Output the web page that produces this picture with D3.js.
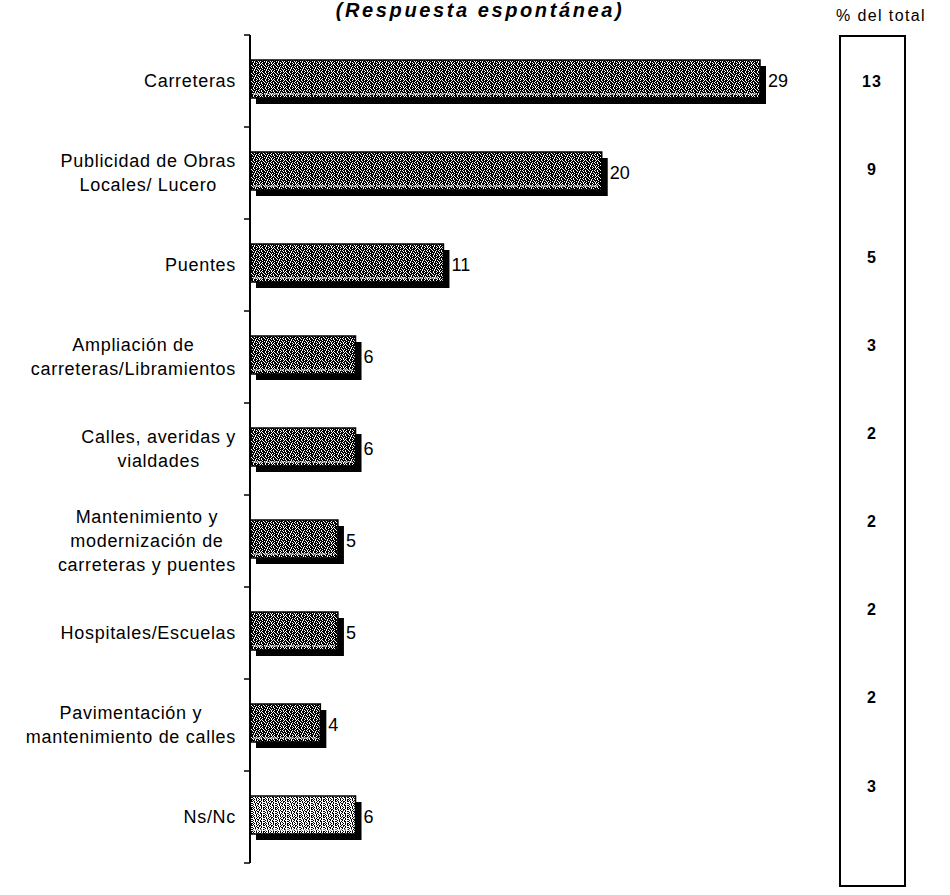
<!DOCTYPE html>
<html>
<head>
<meta charset="utf-8">
<script src="https://cdn.jsdelivr.net/npm/d3@7"></script>
<style>
  html, body { margin: 0; padding: 0; background: #fff; }
  svg { display: block; font-family: "Liberation Sans", Arial, sans-serif; }
</style>
</head>
<body>
<svg id="chart" width="950" height="895"></svg>
<script>
// Categories (line breaks mark wrapped label lines)
const categories = [
  "Carreteras",
  "Publicidad de Obras\nLocales/ Lucero",
  "Puentes",
  "Ampliación de\ncarreteras/Libramientos",
  "Calles, averidas y\nvialdades",
  "Mantenimiento y\nmodernización de\ncarreteras y puentes",
  "Hospitales/Escuelas",
  "Pavimentación y\nmantenimiento de calles",
  "Ns/Nc"
];
// Mentions per category
const values = [29, 20, 11, 6, 6, 5, 5, 4, 6];
// Share of the total, in percent
const pctTotal = [13, 9, 5, 3, 2, 2, 2, 2, 3];
const noAnswer = ["Ns/Nc"];

const titleText = "(Respuesta espontánea)";
const pctHeader = "% del total";

const svg = d3.select("#chart");

// Layout
const axisX = 250;
const plotTop = 35, plotBottom = 863;
const xMaxValue = 30;
const xRangeWidth = 527.6;
const barH = 38;
const shadowOff = 6;

const x = d3.scaleLinear().domain([0, xMaxValue]).range([axisX, axisX + xRangeWidth]);
const y = d3.scaleBand().domain(categories).range([plotTop, plotBottom]).padding(0);

// Speckled fills: '#' = black pixel, '.' = white pixel
const darkTile = [
  "#.##.###.#.#",
  "##.####.###.",
  ".###.#.##.##",
  "#.#.###.#.##",
  "###.#.####.#",
  ".#.###.#.###",
  "##.#.##.##.#",
  "#.###.#.#.##"
];
const lightTile = [
  ".#..#.#..#.#",
  "#.#..#.##..#",
  "..#.#..#.#..",
  "#..#.##..#.#",
  ".#.#..#.#...",
  "#..#.#..##.#",
  ".#..#.#..#..",
  "#.#.#..#.#.#"
];

const defs = svg.append("defs");
function makePattern(id, tile) {
  const p = defs.append("pattern")
    .attr("id", id)
    .attr("patternUnits", "userSpaceOnUse")
    .attr("width", tile[0].length)
    .attr("height", tile.length);
  p.append("rect").attr("width", tile[0].length).attr("height", tile.length).attr("fill", "#000");
  tile.forEach((row, r) => {
    row.split("").forEach((c, k) => {
      if (c === ".") {
        p.append("rect").attr("x", k).attr("y", r).attr("width", 1).attr("height", 1)
          .attr("fill", "#fff").attr("shape-rendering", "crispEdges");
      }
    });
  });
}
makePattern("speckDark", darkTile);
makePattern("speckLight", lightTile);

// Title
svg.append("text")
  .attr("x", 480).attr("y", 17)
  .attr("text-anchor", "middle")
  .attr("font-size", 20)
  .attr("font-weight", "bold")
  .attr("font-style", "italic")
  .attr("letter-spacing", 2.6)
  .text(titleText);

// Bars
const bars = svg.append("g");
categories.forEach((cat, i) => {
  const cy = y(cat) + y.bandwidth() / 2;
  const top = cy - 21;
  const w = x(values[i]) - x(0);
  // drop shadow
  bars.append("rect")
    .attr("x", x(0) + shadowOff).attr("y", top + shadowOff)
    .attr("width", w).attr("height", barH)
    .attr("fill", "#000");
  // speckled face
  bars.append("rect")
    .attr("x", x(0)).attr("y", top)
    .attr("width", w).attr("height", barH)
    .attr("fill", noAnswer.includes(cat) ? "url(#speckLight)" : "url(#speckDark)")
    .attr("stroke", "#000").attr("stroke-width", 1.5);
  // pale seam near the bottom of the face
  bars.append("line")
    .attr("x1", x(0) + 3).attr("x2", x(0) + w - 3)
    .attr("y1", top + barH - 4).attr("y2", top + barH - 4)
    .attr("stroke", "#fff").attr("stroke-width", 1)
    .attr("stroke-dasharray", "9,2,4,1");
  // value label
  svg.append("text")
    .attr("x", x(values[i]) + shadowOff + 2)
    .attr("y", cy)
    .attr("dy", "0.35em")
    .attr("font-size", 18)
    .text(values[i]);
});

// Category axis
const axis = svg.append("g");
axis.append("line")
  .attr("x1", axisX).attr("x2", axisX)
  .attr("y1", plotTop).attr("y2", plotBottom)
  .attr("stroke", "#000").attr("stroke-width", 2);
const tickYs = categories.map(c => y(c)).concat([plotBottom]);
tickYs.forEach(t => {
  axis.append("line")
    .attr("x1", axisX - 6).attr("x2", axisX)
    .attr("y1", t).attr("y2", t)
    .attr("stroke", "#000").attr("stroke-width", 1.5);
});

// Category labels: block right-aligned, lines centred within the block
const labelRight = 236;
const lineH = 24;
categories.forEach(cat => {
  const lines = cat.split("\n");
  const cy = y(cat) + y.bandwidth() / 2;
  const g = svg.append("g");
  const texts = lines.map((ln, j) => g.append("text")
    .attr("y", cy + (j - (lines.length - 1) / 2) * lineH)
    .attr("dy", "0.35em")
    .attr("font-size", 18)
    .attr("letter-spacing", 0.7)
    .attr("text-anchor", "middle")
    .text(ln));
  const maxW = d3.max(texts, t => t.node().getComputedTextLength());
  texts.forEach(t => t.attr("x", labelRight - maxW / 2));
});

// "% del total" column
const boxL = 840, boxR = 905, boxTop = 36, boxBottom = 886;
svg.append("text")
  .attr("x", 881).attr("y", 21)
  .attr("text-anchor", "middle")
  .attr("font-size", 16)
  .attr("letter-spacing", 1.4)
  .text(pctHeader);
svg.append("rect")
  .attr("x", boxL).attr("y", boxTop)
  .attr("width", boxR - boxL).attr("height", boxBottom - boxTop)
  .attr("fill", "none").attr("stroke", "#000").attr("stroke-width", 2);
const yPct = d3.scalePoint().domain(categories).range([81, 786]);
categories.forEach((cat, i) => {
  svg.append("text")
    .attr("x", 872).attr("y", yPct(cat))
    .attr("dy", "0.35em")
    .attr("text-anchor", "middle")
    .attr("font-size", 16)
    .attr("font-weight", "bold")
    .attr("letter-spacing", 1)
    .text(pctTotal[i]);
});
</script>
</body>
</html>
